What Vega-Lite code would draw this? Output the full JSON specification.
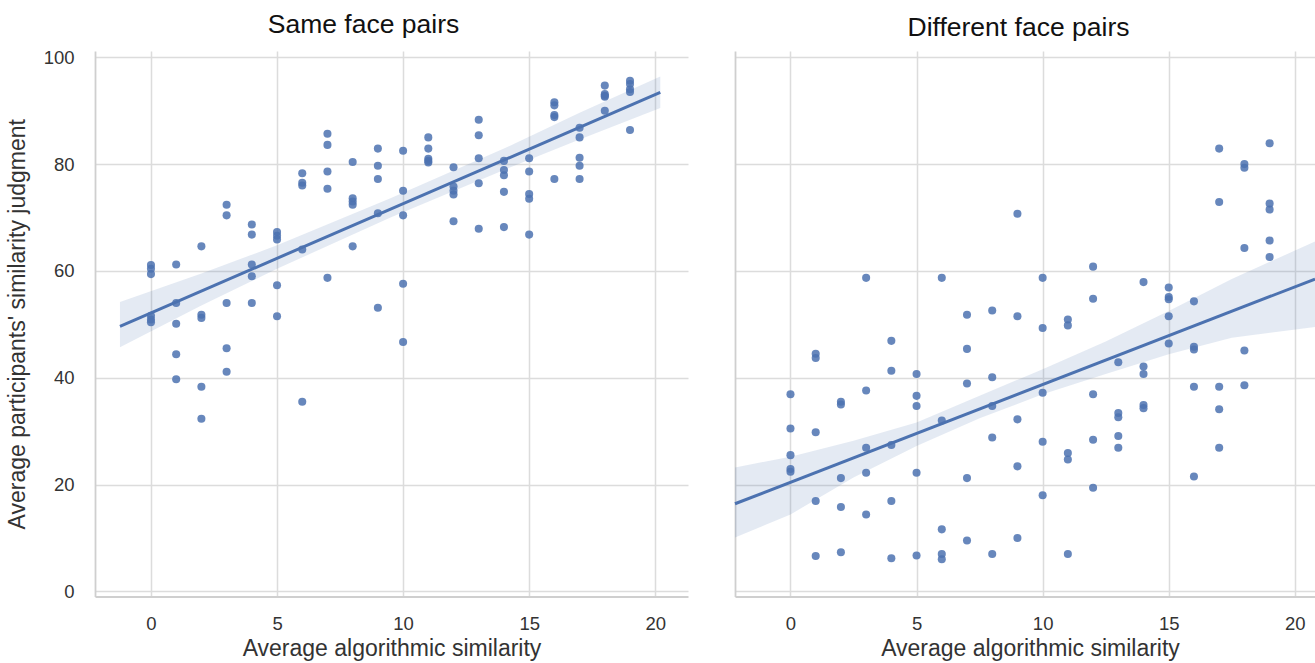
{
  "$schema": "https://vega.github.io/schema/vega-lite/v6.json",
  "background": "white",
  "padding": {"left": 6, "top": 11, "right": 0, "bottom": 0},
  "bounds": "flush",
  "spacing": 47,
  "config": {
    "font": "Liberation Sans",
    "view": {"stroke": null},
    "axis": {
      "grid": true, "gridColor": "#dcdcdc", "gridWidth": 1.5,
      "domainColor": "#cfcfcf", "domainWidth": 1.8,
      "ticks": false, "labelFontSize": 18.5, "labelColor": "#333333",
      "labelPadding": 21, "titleFontSize": 23, "titleFontWeight": "normal",
      "titleColor": "#333333"
    },
    "axisX": {"labelPadding": 18},
    "title": {"fontSize": 26.5, "fontWeight": "normal", "color": "#111111"}
  },
  "datasets": {
    "same": [
      {"x":0,"y":61.1},{"x":0,"y":60.4},{"x":0,"y":59.4},{"x":0,"y":51.6},{"x":0,"y":50.9},{"x":0,"y":50.4},
      {"x":1,"y":61.2},{"x":1,"y":54.0},{"x":1,"y":50.1},{"x":1,"y":44.4},{"x":1,"y":39.7},
      {"x":2,"y":64.6},{"x":2,"y":51.8},{"x":2,"y":51.2},{"x":2,"y":38.3},{"x":2,"y":32.3},
      {"x":3,"y":72.4},{"x":3,"y":70.4},{"x":3,"y":54.0},{"x":3,"y":45.5},{"x":3,"y":41.1},
      {"x":4,"y":68.7},{"x":4,"y":66.8},{"x":4,"y":61.2},{"x":4,"y":59.0},{"x":4,"y":54.0},
      {"x":5,"y":67.3},{"x":5,"y":66.6},{"x":5,"y":65.9},{"x":5,"y":57.3},{"x":5,"y":51.5},
      {"x":6,"y":78.3},{"x":6,"y":76.5},{"x":6,"y":76.0},{"x":6,"y":64.0},{"x":6,"y":35.5},
      {"x":7,"y":85.7},{"x":7,"y":83.6},{"x":7,"y":78.6},{"x":7,"y":75.4},{"x":7,"y":58.7},
      {"x":8,"y":80.4},{"x":8,"y":73.6},{"x":8,"y":73.0},{"x":8,"y":72.4},{"x":8,"y":64.6},
      {"x":9,"y":82.9},{"x":9,"y":79.7},{"x":9,"y":77.2},{"x":9,"y":70.8},{"x":9,"y":53.1},
      {"x":10,"y":82.5},{"x":10,"y":75.0},{"x":10,"y":70.4},{"x":10,"y":57.6},{"x":10,"y":46.7},
      {"x":11,"y":85.0},{"x":11,"y":82.9},{"x":11,"y":81.0},{"x":11,"y":80.6},{"x":11,"y":80.3},
      {"x":12,"y":79.4},{"x":12,"y":75.8},{"x":12,"y":75.0},{"x":12,"y":74.3},{"x":12,"y":69.3},
      {"x":13,"y":88.3},{"x":13,"y":85.4},{"x":13,"y":81.1},{"x":13,"y":76.4},{"x":13,"y":67.9},
      {"x":14,"y":80.6},{"x":14,"y":78.9},{"x":14,"y":77.9},{"x":14,"y":74.8},{"x":14,"y":68.2},
      {"x":15,"y":81.1},{"x":15,"y":78.6},{"x":15,"y":74.4},{"x":15,"y":73.5},{"x":15,"y":66.8},
      {"x":16,"y":91.6},{"x":16,"y":91.0},{"x":16,"y":89.2},{"x":16,"y":88.8},{"x":16,"y":77.2},
      {"x":17,"y":86.8},{"x":17,"y":85.0},{"x":17,"y":81.2},{"x":17,"y":79.7},{"x":17,"y":77.2},
      {"x":18,"y":94.7},{"x":18,"y":93.1},{"x":18,"y":92.8},{"x":18,"y":92.6},{"x":18,"y":90.0},
      {"x":19,"y":95.6},{"x":19,"y":95.0},{"x":19,"y":94.0},{"x":19,"y":93.5},{"x":19,"y":86.4}
    ],
    "diff": [
      {"x":0,"y":36.9},{"x":0,"y":30.5},{"x":0,"y":25.5},{"x":0,"y":22.9},{"x":0,"y":22.4},
      {"x":1,"y":44.5},{"x":1,"y":43.7},{"x":1,"y":29.8},{"x":1,"y":16.9},{"x":1,"y":6.6},
      {"x":2,"y":35.5},{"x":2,"y":35.0},{"x":2,"y":21.2},{"x":2,"y":15.8},{"x":2,"y":7.3},
      {"x":3,"y":58.7},{"x":3,"y":37.6},{"x":3,"y":26.9},{"x":3,"y":22.2},{"x":3,"y":14.4},
      {"x":4,"y":46.9},{"x":4,"y":41.3},{"x":4,"y":27.4},{"x":4,"y":16.9},{"x":4,"y":6.2},
      {"x":5,"y":40.7},{"x":5,"y":36.6},{"x":5,"y":34.7},{"x":5,"y":22.2},{"x":5,"y":6.7},
      {"x":6,"y":58.7},{"x":6,"y":32.0},{"x":6,"y":11.6},{"x":6,"y":7.0},{"x":6,"y":6.0},
      {"x":7,"y":51.8},{"x":7,"y":45.4},{"x":7,"y":38.9},{"x":7,"y":21.2},{"x":7,"y":9.5},
      {"x":8,"y":52.6},{"x":8,"y":40.1},{"x":8,"y":34.7},{"x":8,"y":28.8},{"x":8,"y":7.0},
      {"x":9,"y":70.7},{"x":9,"y":51.5},{"x":9,"y":32.2},{"x":9,"y":23.4},{"x":9,"y":10.0},
      {"x":10,"y":58.7},{"x":10,"y":49.3},{"x":10,"y":37.2},{"x":10,"y":28.0},{"x":10,"y":18.0},
      {"x":11,"y":50.9},{"x":11,"y":49.8},{"x":11,"y":25.9},{"x":11,"y":24.7},{"x":11,"y":7.0},
      {"x":12,"y":60.8},{"x":12,"y":54.8},{"x":12,"y":36.9},{"x":12,"y":28.4},{"x":12,"y":19.4},
      {"x":13,"y":42.9},{"x":13,"y":33.4},{"x":13,"y":32.6},{"x":13,"y":29.1},{"x":13,"y":26.9},
      {"x":14,"y":57.9},{"x":14,"y":42.1},{"x":14,"y":40.7},{"x":14,"y":34.9},{"x":14,"y":34.3},
      {"x":15,"y":56.9},{"x":15,"y":55.1},{"x":15,"y":54.7},{"x":15,"y":51.5},{"x":15,"y":46.4},
      {"x":16,"y":54.3},{"x":16,"y":45.8},{"x":16,"y":45.3},{"x":16,"y":38.3},{"x":16,"y":21.5},
      {"x":17,"y":82.9},{"x":17,"y":72.9},{"x":17,"y":38.3},{"x":17,"y":34.1},{"x":17,"y":26.9},
      {"x":18,"y":80.0},{"x":18,"y":79.3},{"x":18,"y":64.3},{"x":18,"y":45.1},{"x":18,"y":38.6},
      {"x":19,"y":83.9},{"x":19,"y":72.6},{"x":19,"y":71.5},{"x":19,"y":65.7},{"x":19,"y":62.6}
    ],
    "bandSame": [
      {"x":-1.23,"lo":45.7,"hi":54.2},
      {"x":2,"lo":53.5,"hi":59.5},
      {"x":5,"lo":60.4,"hi":64.8},
      {"x":9.5,"lo":70.0,"hi":73.6},
      {"x":14,"lo":78.9,"hi":82.9},
      {"x":17,"lo":84.6,"hi":89.6},
      {"x":20.2,"lo":90.5,"hi":96.4}
    ],
    "bandDiff": [
      {"x":-2.2,"lo":10.1,"hi":23.2},
      {"x":0,"lo":14.4,"hi":25.2},
      {"x":2.5,"lo":21.3,"hi":28.2},
      {"x":5,"lo":27.2,"hi":31.6},
      {"x":7.5,"lo":32.4,"hi":36.6},
      {"x":10,"lo":36.9,"hi":41.6},
      {"x":12.5,"lo":40.7,"hi":46.8},
      {"x":15,"lo":44.4,"hi":52.5},
      {"x":17.5,"lo":47.5,"hi":58.5},
      {"x":20.8,"lo":49.5,"hi":65.5}
    ]
  },
  "hconcat": [
    {
      "width": 593,
      "height": 545.5,
      "title": {"text": "Same face pairs", "dx": -28, "offset": 10},
      "layer": [
        {
          "data": {"name": "bandSame"},
          "mark": {"type": "area", "color": "#4C72B0", "opacity": 0.15},
          "encoding": {
            "x": {"field": "x", "type": "quantitative", "scale": {"domain": [-2.22, 21.3], "nice": false, "zero": false},
                  "axis": {"values": [0, 5, 10, 15, 20], "title": "Average algorithmic similarity", "titlePadding": 4}},
            "y": {"field": "lo", "type": "quantitative", "scale": {"domain": [-0.97, 101.18], "nice": false, "zero": false},
                  "axis": {"values": [0, 20, 40, 60, 80, 100], "title": "Average participants' similarity judgment", "titlePadding": 14}},
            "y2": {"field": "hi"}
          }
        },
        {
          "data": {"name": "same"},
          "mark": {"type": "circle", "size": 65, "color": "#4C72B0", "opacity": 0.85},
          "encoding": {
            "x": {"field": "x", "type": "quantitative"},
            "y": {"field": "y", "type": "quantitative"}
          }
        },
        {
          "data": {"name": "same"},
          "transform": [{"regression": "y", "on": "x", "extent": [-1.23, 20.2]}],
          "mark": {"type": "line", "color": "#4C72B0", "strokeWidth": 3},
          "encoding": {
            "x": {"field": "x", "type": "quantitative"},
            "y": {"field": "y", "type": "quantitative"}
          }
        }
      ]
    },
    {
      "width": 580,
      "height": 545.5,
      "title": {"text": "Different face pairs", "dx": -6.5, "offset": 10},
      "layer": [
        {
          "data": {"name": "bandDiff"},
          "mark": {"type": "area", "color": "#4C72B0", "opacity": 0.15},
          "encoding": {
            "x": {"field": "x", "type": "quantitative", "scale": {"domain": [-2.2, 20.8], "nice": false, "zero": false},
                  "axis": {"values": [0, 5, 10, 15, 20], "title": "Average algorithmic similarity", "titleX": 295, "titlePadding": 4}},
            "y": {"field": "lo", "type": "quantitative", "scale": {"domain": [-0.97, 101.18], "nice": false, "zero": false},
                  "axis": {"values": [0, 20, 40, 60, 80, 100], "labels": false, "title": null}},
            "y2": {"field": "hi"}
          }
        },
        {
          "data": {"name": "diff"},
          "mark": {"type": "circle", "size": 65, "color": "#4C72B0", "opacity": 0.85},
          "encoding": {
            "x": {"field": "x", "type": "quantitative"},
            "y": {"field": "y", "type": "quantitative"}
          }
        },
        {
          "data": {"name": "diff"},
          "transform": [{"regression": "y", "on": "x", "extent": [-2.2, 20.8]}],
          "mark": {"type": "line", "color": "#4C72B0", "strokeWidth": 3},
          "encoding": {
            "x": {"field": "x", "type": "quantitative"},
            "y": {"field": "y", "type": "quantitative"}
          }
        }
      ]
    }
  ]
}
